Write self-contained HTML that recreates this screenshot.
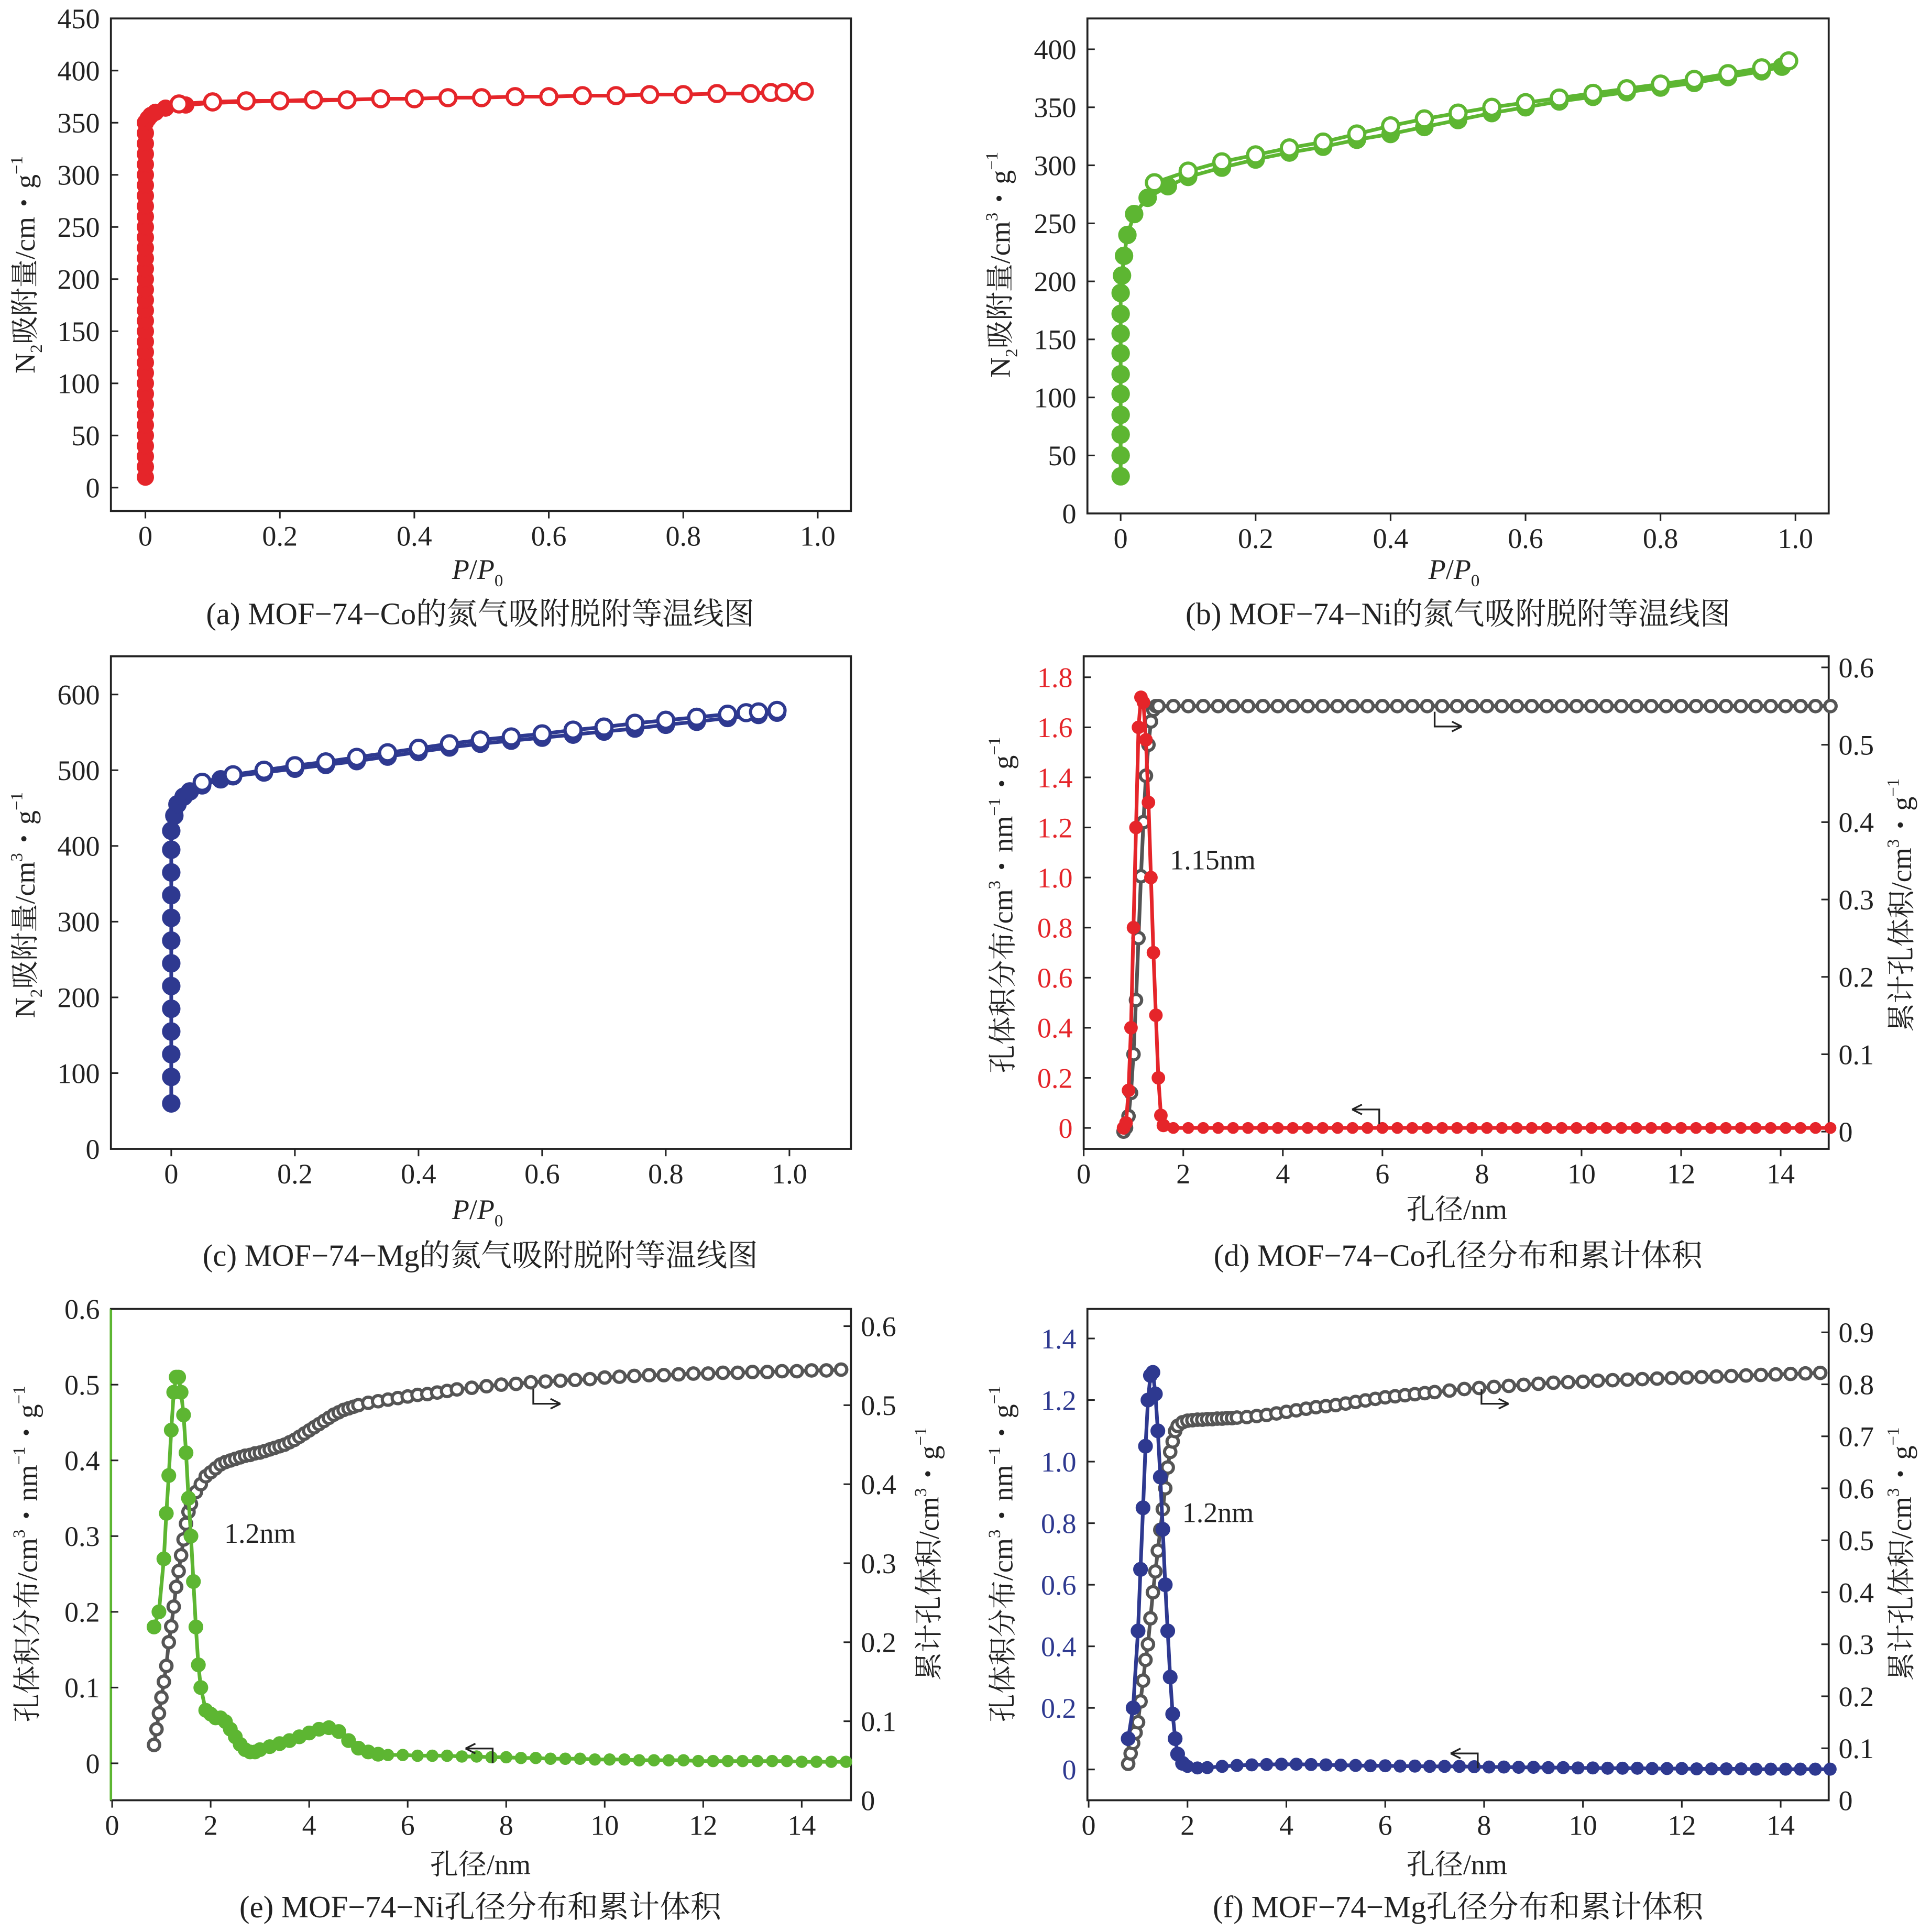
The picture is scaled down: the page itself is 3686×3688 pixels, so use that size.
<!DOCTYPE html>
<html><head><meta charset="utf-8">
<style>
html,body{margin:0;padding:0;background:#fff;}
svg{display:block;font-family:"Liberation Serif","Noto Serif CJK SC",serif;}
</style></head>
<body>
<svg id="fig" width="3686" height="3688" viewBox="0 0 1568 1569" xmlns="http://www.w3.org/2000/svg"></svg>
<script>
// ---------- data ----------
const a_ads_x=[0,0,0,0,0,0,0,0,0,0,0,0,0,0,0,0,0,0,0,0,0,0,0,0,0,0,0,0,0,0,0,0,0,0,0,0.004,0.008,0.015,0.03,0.06,0.1,0.15,0.2,0.25,0.3];
const a_ads_y=[10,20,30,40,50,60,70,80,90,100,110,120,130,140,150,160,170,180,190,200,210,220,230,240,250,260,270,280,290,300,310,320,330,340,350,354,357,360,364,367,369,370,371,371,372];
const a_des_x=[0.05,0.1,0.15,0.2,0.25,0.3,0.35,0.4,0.45,0.5,0.55,0.6,0.65,0.7,0.75,0.8,0.85,0.9,0.93,0.95,0.98];
const a_des_y=[368,370,371,371,372,372,373,373,374,374,375,375,376,376,377,377,378,378,379,379,380];

const b_ads_x=[0,0,0,0,0,0,0,0,0,0,0.002,0.005,0.01,0.02,0.04,0.07,0.1,0.15,0.2,0.25,0.3,0.35,0.4,0.45,0.5,0.55,0.6,0.65,0.7,0.75,0.8,0.85,0.9,0.95,0.98];
const b_ads_y=[32,50,68,85,103,120,138,155,172,190,205,222,240,258,272,282,290,298,305,311,316,322,327,333,339,345,350,355,359,363,367,371,376,381,385];
const b_des_x=[0.05,0.1,0.15,0.2,0.25,0.3,0.35,0.4,0.45,0.5,0.55,0.6,0.65,0.7,0.75,0.8,0.85,0.9,0.95,0.99];
const b_des_y=[285,295,303,309,315,320,327,334,340,345,350,354,358,362,366,370,374,379,384,390];

const c_ads_x=[0,0,0,0,0,0,0,0,0,0,0,0,0,0.005,0.01,0.02,0.03,0.05,0.08,0.1,0.15,0.2,0.25,0.3,0.35,0.4,0.45,0.5,0.55,0.6,0.65,0.7,0.75,0.8,0.85,0.9,0.95,0.98];
const c_ads_y=[60,95,125,155,185,215,245,275,305,335,365,395,420,440,455,465,472,480,488,492,497,502,507,512,518,524,530,535,539,543,547,551,555,560,564,569,573,576];
const c_des_x=[0.05,0.1,0.15,0.2,0.25,0.3,0.35,0.4,0.45,0.5,0.55,0.6,0.65,0.7,0.75,0.8,0.85,0.9,0.93,0.95,0.98];
const c_des_y=[484,494,500,506,511,517,523,529,535,540,544,548,553,557,562,566,570,574,576,577,579];

const d_psd_x=[0.8,0.85,0.9,0.95,1.0,1.05,1.1,1.15,1.2,1.25,1.3,1.35,1.4,1.45,1.5,1.55,1.6,1.8,2.1,2.4,2.7,3.0,3.3,3.6,3.9,4.2,4.5,4.8,5.1,5.4,5.7,6.0,6.3,6.6,6.9,7.2,7.5,7.8,8.1,8.4,8.7,9.0,9.3,9.6,9.9,10.2,10.5,10.8,11.1,11.4,11.7,12.0,12.3,12.6,12.9,13.2,13.5,13.8,14.1,14.4,14.7,15.0];
const d_psd_y=[0,0.02,0.15,0.4,0.8,1.2,1.6,1.72,1.7,1.55,1.3,1.0,0.7,0.45,0.2,0.05,0.01,0,0,0,0,0,0,0,0,0,0,0,0,0,0,0,0,0,0,0,0,0,0,0,0,0,0,0,0,0,0,0,0,0,0,0,0,0,0,0,0,0,0,0,0,0];
const d_cum_x=[0.8,0.85,0.9,0.95,1.0,1.05,1.1,1.15,1.2,1.25,1.3,1.35,1.4,1.45,1.5,1.8,2.1,2.4,2.7,3.0,3.3,3.6,3.9,4.2,4.5,4.8,5.1,5.4,5.7,6.0,6.3,6.6,6.9,7.2,7.5,7.8,8.1,8.4,8.7,9.0,9.3,9.6,9.9,10.2,10.5,10.8,11.1,11.4,11.7,12.0,12.3,12.6,12.9,13.2,13.5,13.8,14.1,14.4,14.7,15.0];
const d_cum_y=[0,0.005,0.02,0.05,0.1,0.17,0.25,0.33,0.4,0.46,0.5,0.53,0.545,0.55,0.55,0.55,0.55,0.55,0.55,0.55,0.55,0.55,0.55,0.55,0.55,0.55,0.55,0.55,0.55,0.55,0.55,0.55,0.55,0.55,0.55,0.55,0.55,0.55,0.55,0.55,0.55,0.55,0.55,0.55,0.55,0.55,0.55,0.55,0.55,0.55,0.55,0.55,0.55,0.55,0.55,0.55,0.55,0.55,0.55,0.55];

const e_psd_x=[0.85,0.95,1.05,1.1,1.15,1.2,1.25,1.3,1.35,1.4,1.45,1.5,1.55,1.6,1.65,1.7,1.75,1.8,1.9,2.0,2.1,2.2,2.3,2.4,2.5,2.6,2.7,2.8,2.9,3.0,3.2,3.4,3.6,3.8,4.0,4.2,4.4,4.6,4.8,5.0,5.2,5.4,5.6,5.9,6.2,6.5,6.8,7.1,7.4,7.7,8.0,8.3,8.6,8.9,9.2,9.5,9.8,10.1,10.4,10.7,11.0,11.3,11.6,11.9,12.2,12.5,12.8,13.1,13.4,13.7,14.0,14.3,14.6,14.9];
const e_psd_y=[0.18,0.2,0.27,0.33,0.38,0.44,0.49,0.51,0.51,0.49,0.46,0.41,0.35,0.3,0.24,0.18,0.13,0.1,0.07,0.065,0.06,0.06,0.055,0.045,0.035,0.025,0.018,0.015,0.015,0.018,0.022,0.026,0.03,0.035,0.04,0.045,0.047,0.042,0.03,0.02,0.015,0.012,0.011,0.011,0.01,0.01,0.01,0.009,0.009,0.008,0.008,0.007,0.007,0.006,0.006,0.006,0.005,0.005,0.005,0.004,0.004,0.004,0.004,0.003,0.003,0.003,0.003,0.003,0.003,0.003,0.002,0.002,0.002,0.002];
const e_cum_x=[0.85,0.9,0.95,1.0,1.05,1.1,1.15,1.2,1.25,1.3,1.35,1.4,1.45,1.5,1.55,1.6,1.7,1.8,1.9,2.0,2.1,2.2,2.3,2.4,2.5,2.6,2.7,2.8,2.9,3.0,3.1,3.2,3.3,3.4,3.5,3.6,3.7,3.8,3.9,4.0,4.1,4.2,4.3,4.4,4.5,4.6,4.7,4.8,4.9,5.0,5.2,5.4,5.6,5.8,6.0,6.2,6.4,6.6,6.8,7.0,7.3,7.6,7.9,8.2,8.5,8.8,9.1,9.4,9.7,10.0,10.3,10.6,10.9,11.2,11.5,11.8,12.1,12.4,12.7,13.0,13.3,13.6,13.9,14.2,14.5,14.8];
const e_cum_y=[0.07,0.09,0.11,0.13,0.15,0.17,0.2,0.22,0.245,0.27,0.29,0.31,0.33,0.35,0.365,0.375,0.39,0.4,0.41,0.415,0.42,0.425,0.428,0.43,0.432,0.434,0.436,0.437,0.439,0.44,0.442,0.444,0.446,0.448,0.45,0.453,0.456,0.46,0.464,0.468,0.472,0.476,0.48,0.484,0.488,0.491,0.494,0.496,0.498,0.5,0.503,0.505,0.507,0.509,0.511,0.513,0.514,0.516,0.518,0.52,0.522,0.524,0.526,0.527,0.529,0.53,0.531,0.532,0.533,0.535,0.536,0.537,0.538,0.538,0.539,0.54,0.54,0.541,0.541,0.542,0.542,0.543,0.543,0.544,0.544,0.545];

const f_psd_x=[0.8,0.9,1.0,1.05,1.1,1.15,1.2,1.25,1.3,1.35,1.4,1.45,1.5,1.55,1.6,1.65,1.7,1.75,1.8,1.9,2.0,2.2,2.4,2.7,3.0,3.3,3.6,3.9,4.2,4.5,4.8,5.1,5.4,5.7,6.0,6.3,6.6,6.9,7.2,7.5,7.8,8.1,8.4,8.7,9.0,9.3,9.6,9.9,10.2,10.5,10.8,11.1,11.4,11.7,12.0,12.3,12.6,12.9,13.2,13.5,13.8,14.1,14.4,14.7,15.0];
const f_psd_y=[0.1,0.2,0.45,0.65,0.85,1.05,1.2,1.28,1.29,1.22,1.1,0.95,0.78,0.6,0.45,0.3,0.18,0.1,0.05,0.02,0.01,0.005,0.006,0.01,0.013,0.015,0.016,0.017,0.017,0.016,0.015,0.014,0.013,0.012,0.012,0.011,0.011,0.01,0.01,0.01,0.009,0.008,0.008,0.007,0.007,0.006,0.006,0.005,0.005,0.004,0.004,0.004,0.003,0.003,0.003,0.002,0.002,0.002,0.002,0.001,0.001,0.001,0.001,0.001,0.001];
const f_cum_x=[0.8,0.85,0.9,0.95,1.0,1.05,1.1,1.15,1.2,1.25,1.3,1.35,1.4,1.45,1.5,1.55,1.6,1.65,1.7,1.75,1.8,1.9,2.0,2.1,2.2,2.3,2.4,2.5,2.6,2.7,2.8,2.9,3.0,3.2,3.4,3.6,3.8,4.0,4.2,4.4,4.6,4.8,5.0,5.2,5.4,5.6,5.8,6.0,6.2,6.4,6.6,6.8,7.0,7.3,7.6,7.9,8.2,8.5,8.8,9.1,9.4,9.7,10.0,10.3,10.6,10.9,11.2,11.5,11.8,12.1,12.4,12.7,13.0,13.3,13.6,13.9,14.2,14.5,14.8];
const f_cum_y=[0.07,0.09,0.11,0.13,0.15,0.19,0.23,0.27,0.3,0.35,0.4,0.44,0.48,0.52,0.56,0.6,0.64,0.67,0.69,0.71,0.72,0.727,0.73,0.731,0.732,0.732,0.733,0.733,0.734,0.734,0.735,0.735,0.736,0.737,0.739,0.741,0.744,0.747,0.75,0.753,0.756,0.758,0.76,0.763,0.766,0.769,0.772,0.775,0.777,0.779,0.781,0.783,0.785,0.788,0.791,0.793,0.795,0.797,0.799,0.801,0.803,0.804,0.805,0.807,0.808,0.809,0.81,0.811,0.812,0.813,0.814,0.815,0.816,0.817,0.818,0.819,0.82,0.821,0.822];

const isoXTicks=[0,0.2,0.4,0.6,0.8,1.0];
const isoXLabels=["0","0.2","0.4","0.6","0.8","1.0"];
const psdXTicks=[0,2,4,6,8,10,12,14];
const a_yTicks=[0,50,100,150,200,250,300,350,400,450];
const b_yTicks=[0,50,100,150,200,250,300,350,400];
const c_yTicks=[0,100,200,300,400,500,600];
const d_yTicks=[0,0.2,0.4,0.6,0.8,1.0,1.2,1.4,1.6,1.8];
const d_yLabels=["0","0.2","0.4","0.6","0.8","1.0","1.2","1.4","1.6","1.8"];
const d_y2Ticks=[0,0.1,0.2,0.3,0.4,0.5,0.6];
const d_y2Labels=["0","0.1","0.2","0.3","0.4","0.5","0.6"];
const e_yTicks=[0,0.1,0.2,0.3,0.4,0.5,0.6];
const e_yLabels=["0","0.1","0.2","0.3","0.4","0.5","0.6"];
const e_y2Ticks=[0,0.1,0.2,0.3,0.4,0.5,0.6];
const e_y2Labels=["0","0.1","0.2","0.3","0.4","0.5","0.6"];
const f_yTicks=[0,0.2,0.4,0.6,0.8,1.0,1.2,1.4];
const f_yLabels=["0","0.2","0.4","0.6","0.8","1.0","1.2","1.4"];
const f_y2Ticks=[0,0.1,0.2,0.3,0.4,0.5,0.6,0.7,0.8,0.9];
const f_y2Labels=["0","0.1","0.2","0.3","0.4","0.5","0.6","0.7","0.8","0.9"];

// ---------- drawing ----------
const NS="http://www.w3.org/2000/svg";
const svg=document.getElementById('fig');
function mk(tag,attrs,parent){const e=document.createElementNS(NS,tag);for(const k in attrs)e.setAttribute(k,attrs[k]);(parent||svg).appendChild(e);return e;}
function lin(d0,d1,p0,p1){return v=>p0+(v-d0)*(p1-p0)/(d1-d0);}
const RED="#e5252a",GREEN="#5db632",BLUE="#2e3990",GRAY="#555";

function panel(name,box){
  const g=mk('g',{});
  
  
  const r=mk('rect',{x:box[0],y:box[1],width:box[2]-box[0],height:box[3]-box[1],fill:'none',stroke:'#222','stroke-width':1.6},g);
  
  
  return g;
}
function xAxis(g,box,sx,ticks,labels){
  const ax=mk('g',{},g);
  
  
  ticks.forEach((t,i)=>{
    const x=sx(t);
    mk('line',{x1:x,x2:x,y1:box[3],y2:box[3]+6,stroke:'#222','stroke-width':1.3},ax);
    const tx=mk('text',{x:x,y:box[3]+28,'text-anchor':'middle','font-size':23,fill:'#222'},ax);
    tx.textContent=labels[i];
    
    
  });
}
function yAxis(g,box,sy,ticks,labels,right,color){
  const ax=mk('g',{},g);
  
  
  ticks.forEach((t,i)=>{
    const y=sy(t);
    const x0=right?box[2]:box[0];
    mk('line',{x1:x0,x2:right?x0-6:x0+6,y1:y,y2:y,stroke:'#222','stroke-width':1.3},ax);
    const tx=mk('text',{x:right?x0+8:x0-9,y:y+8,'text-anchor':right?'start':'end','font-size':23,fill:color||'#222'},ax);
    tx.textContent=labels[i];
    
    
  });
}
function series(g,name,xs,ys,sx,sy,color,open,r,rTail,tailFrom){
  const s=mk('g',{},g);
  
  
  const pts=xs.map((x,i)=>sx(x).toFixed(1)+','+sy(ys[i]).toFixed(1)).join(' ');
  mk('polyline',{points:pts,fill:'none',stroke:color,'stroke-width':3},s);
  xs.forEach((x,i)=>{
    const rr=(rTail&&x>=tailFrom)?rTail:(r||6);
    const c=mk('circle',{cx:sx(x),cy:sy(ys[i]),r:rr,fill:open?'#fff':color,stroke:color,'stroke-width':open?2.6:1},s);
    
    
  });
}
function text(g,name,x,y,str,opts){
  const t=mk('text',Object.assign({x:x,y:y,'font-size':23,fill:'#222'},opts||{}),g);
  t.innerHTML=str;
  
  
  return t;
}
function vtitle(g,name,x,y,str){
  const t=mk('text',{x:0,y:0,'font-size':23,fill:'#222','text-anchor':'middle',transform:`translate(${x},${y}) rotate(-90)`},g);
  t.innerHTML=str;
  
  
}
function arrow(g,name,x,y,dir){
  const a=mk('g',{},g);
  
  
  if(dir>0){
    mk('path',{d:`M${x},${y-12} L${x},${y} L${x+22},${y}`,fill:'none',stroke:'#222','stroke-width':1.4},a);
    mk('path',{d:`M${x+22},${y} l-8,-4 M${x+22},${y} l-8,4`,fill:'none',stroke:'#222','stroke-width':1.4},a);
  } else {
    mk('path',{d:`M${x},${y+12} L${x},${y} L${x-22},${y}`,fill:'none',stroke:'#222','stroke-width':1.4},a);
    mk('path',{d:`M${x-22},${y} l8,-4 M${x-22},${y} l8,4`,fill:'none',stroke:'#222','stroke-width':1.4},a);
  }
}
const PP='<tspan font-style="italic">P</tspan>/<tspan font-style="italic">P</tspan><tspan font-size="14" dy="6">0</tspan>';
const CAP={'text-anchor':'middle','font-size':25};

// (a)
{const box=[90,15,691,415];const g=panel('panel-a-co-isotherm',box);
 const sx=lin(0,1,118,664),sy=lin(0,450,396,15);
 xAxis(g,box,sx,isoXTicks,isoXLabels);yAxis(g,box,sy,a_yTicks,a_yTicks.map(String));
 series(g,'adsorption-series',a_ads_x,a_ads_y,sx,sy,RED,false,6.5);
 series(g,'desorption-series',a_des_x,a_des_y,sx,sy,RED,true,6.5);
 text(g,'x-axis-title',367,470,PP);
 vtitle(g,'y-axis-title',28,215,'N<tspan font-size="14" dy="6">2</tspan><tspan dy="-6">吸附量/cm・g</tspan><tspan font-size="14" dy="-10">−1</tspan>');
 text(g,'caption-a',390,507,'(a) MOF−74−Co的氮气吸附脱附等温线图',CAP);}
// (b)
{const box=[883,15,1485,417];const g=panel('panel-b-ni-isotherm',box);
 const sx=lin(0,1,910,1458),sy=lin(0,400,417,40);
 xAxis(g,box,sx,isoXTicks,isoXLabels);yAxis(g,box,sy,b_yTicks,b_yTicks.map(String));
 series(g,'adsorption-series',b_ads_x,b_ads_y,sx,sy,GREEN,false,7);
 series(g,'desorption-series',b_des_x,b_des_y,sx,sy,GREEN,true,6.5);
 text(g,'x-axis-title',1160,470,PP);
 vtitle(g,'y-axis-title',820,215,'N<tspan font-size="14" dy="6">2</tspan><tspan dy="-6">吸附量/cm</tspan><tspan font-size="14" dy="-10">3</tspan><tspan dy="10">・g</tspan><tspan font-size="14" dy="-10">−1</tspan>');
 text(g,'caption-b',1184,507,'(b) MOF−74−Ni的氮气吸附脱附等温线图',CAP);}
// (c)
{const box=[90,533,691,933];const g=panel('panel-c-mg-isotherm',box);
 const sx=lin(0,1,139,641),sy=lin(0,600,933,564);
 xAxis(g,box,sx,isoXTicks,isoXLabels);yAxis(g,box,sy,c_yTicks,c_yTicks.map(String));
 series(g,'adsorption-series',c_ads_x,c_ads_y,sx,sy,BLUE,false,7);
 series(g,'desorption-series',c_des_x,c_des_y,sx,sy,BLUE,true,6.5);
 text(g,'x-axis-title',367,990,PP);
 vtitle(g,'y-axis-title',28,735,'N<tspan font-size="14" dy="6">2</tspan><tspan dy="-6">吸附量/cm</tspan><tspan font-size="14" dy="-10">3</tspan><tspan dy="10">・g</tspan><tspan font-size="14" dy="-10">−1</tspan>');
 text(g,'caption-c',390,1028,'(c) MOF−74−Mg的氮气吸附脱附等温线图',CAP);}
// (d)
{const box=[880,533,1485,933];const g=panel('panel-d-co-pore',box);
 const sx=lin(0,14,880,1446),sy=lin(0,1.8,916,550),sy2=lin(0,0.6,919,542);
 xAxis(g,box,sx,psdXTicks,psdXTicks.map(String));yAxis(g,box,sy,d_yTicks,d_yLabels,false,RED);yAxis(g,box,sy2,d_y2Ticks,d_y2Labels,true);
 series(g,'cumulative-volume-series',d_cum_x,d_cum_y,sx,sy2,GRAY,true,4.6);
 series(g,'pore-distribution-series',d_psd_x,d_psd_y,sx,sy,RED,false,5,4.3,1.7);
 text(g,'peak-label',950,706,'1.15nm');
 arrow(g,'right-axis-arrow',1165,590,1);arrow(g,'left-axis-arrow',1120,901,-1);
 text(g,'x-axis-title',1183,990,'孔径/nm',{'text-anchor':'middle'});
 vtitle(g,'y-axis-title',822,735,'孔体积分布/cm<tspan font-size="14" dy="-10">3</tspan><tspan dy="10">・nm</tspan><tspan font-size="14" dy="-10">−1</tspan><tspan dy="10">・g</tspan><tspan font-size="14" dy="-10">−1</tspan>');
 vtitle(g,'right-y-axis-title',1552,735,'累计孔体积/cm<tspan font-size="14" dy="-10">3</tspan><tspan dy="10">・g</tspan><tspan font-size="14" dy="-10">−1</tspan>');
 text(g,'caption-d',1184,1028,'(d) MOF−74−Co孔径分布和累计体积',CAP);}
// (e)
{const box=[90,1063,691,1462];const g=panel('panel-e-ni-pore',box);
 mk('line',{x1:90,x2:90,y1:1063,y2:1462,stroke:GREEN,'stroke-width':2},g);
 const sx=lin(0,14,91,651),sy=lin(0,0.6,1432,1063),sy2=lin(0,0.6,1462,1077);
 xAxis(g,box,sx,psdXTicks,psdXTicks.map(String));yAxis(g,box,sy,e_yTicks,e_yLabels);yAxis(g,box,sy2,e_y2Ticks,e_y2Labels,true);
 series(g,'cumulative-volume-series',e_cum_x,e_cum_y,sx,sy2,GRAY,true,4.6);
 series(g,'pore-distribution-series',e_psd_x,e_psd_y,sx,sy,GREEN,false,5.5,4.5,5.5);
 text(g,'peak-label',182,1253,'1.2nm');
 arrow(g,'right-axis-arrow',433,1140,1);arrow(g,'left-axis-arrow',400,1420,-1);
 text(g,'x-axis-title',390,1522,'孔径/nm',{'text-anchor':'middle'});
 vtitle(g,'y-axis-title',30,1262,'孔体积分布/cm<tspan font-size="14" dy="-10">3</tspan><tspan dy="10">・nm</tspan><tspan font-size="14" dy="-10">−1</tspan><tspan dy="10">・g</tspan><tspan font-size="14" dy="-10">−1</tspan>');
 vtitle(g,'right-y-axis-title',762,1262,'累计孔体积/cm<tspan font-size="14" dy="-10">3</tspan><tspan dy="10">・g</tspan><tspan font-size="14" dy="-10">−1</tspan>');
 text(g,'caption-e',390,1557,'(e) MOF−74−Ni孔径分布和累计体积',CAP);}
// (f)
{const box=[883,1063,1485,1462];const g=panel('panel-f-mg-pore',box);
 const sx=lin(0,14,884,1446),sy=lin(0,1.4,1437,1087),sy2=lin(0,0.9,1462,1082);
 xAxis(g,box,sx,psdXTicks,psdXTicks.map(String));yAxis(g,box,sy,f_yTicks,f_yLabels,false,BLUE);yAxis(g,box,sy2,f_y2Ticks,f_y2Labels,true);
 series(g,'cumulative-volume-series',f_cum_x,f_cum_y,sx,sy2,GRAY,true,4.6);
 series(g,'pore-distribution-series',f_psd_x,f_psd_y,sx,sy,BLUE,false,5.5,4.8,2.0);
 text(g,'peak-label',960,1236,'1.2nm');
 arrow(g,'right-axis-arrow',1203,1140,1);arrow(g,'left-axis-arrow',1200,1424,-1);
 text(g,'x-axis-title',1183,1522,'孔径/nm',{'text-anchor':'middle'});
 vtitle(g,'y-axis-title',822,1262,'孔体积分布/cm<tspan font-size="14" dy="-10">3</tspan><tspan dy="10">・nm</tspan><tspan font-size="14" dy="-10">−1</tspan><tspan dy="10">・g</tspan><tspan font-size="14" dy="-10">−1</tspan>');
 vtitle(g,'right-y-axis-title',1552,1262,'累计孔体积/cm<tspan font-size="14" dy="-10">3</tspan><tspan dy="10">・g</tspan><tspan font-size="14" dy="-10">−1</tspan>');
 text(g,'caption-f',1184,1557,'(f) MOF−74−Mg孔径分布和累计体积',CAP);}
</script>
</body></html>
